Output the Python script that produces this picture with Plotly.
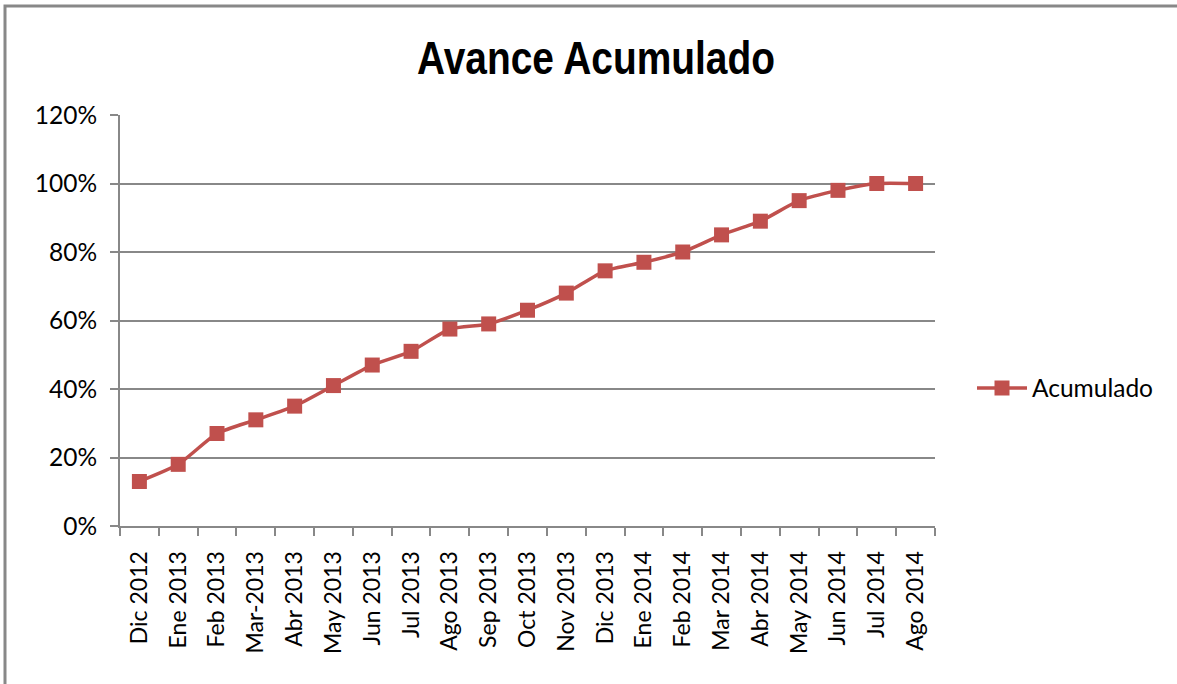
import plotly.graph_objects as go

categories = ["Dic 2012", "Ene 2013", "Feb 2013", "Mar-2013", "Abr 2013", "May 2013",
              "Jun 2013", "Jul 2013", "Ago 2013", "Sep 2013", "Oct 2013", "Nov 2013",
              "Dic 2013", "Ene 2014", "Feb 2014", "Mar 2014", "Abr 2014", "May 2014",
              "Jun 2014", "Jul 2014", "Ago 2014"]
acumulado = [0.13, 0.18, 0.27, 0.31, 0.35, 0.41, 0.47, 0.51, 0.575, 0.59, 0.63, 0.68,
             0.745, 0.77, 0.80, 0.85, 0.89, 0.95, 0.98, 1.00, 1.00]
y_ticks = [0, 0.2, 0.4, 0.6, 0.8, 1.0, 1.2]
y_labels = ["0%", "20%", "40%", "60%", "80%", "100%", "120%"]

W, H = 1177, 684
L, R, T, B = 120, 935, 115, 526

fig = go.Figure()
fig.add_trace(go.Scatter(
    x=categories, y=acumulado, name="Acumulado", mode="lines+markers",
    line=dict(color="#C0504D", width=3.5, shape="spline", smoothing=0.6),
    marker=dict(symbol="square", size=15, color="#C0504D"),
))

grid = "#888888"
font_family = "Lato, Carlito, Calibri, sans-serif"
fs = 24.5
fig.update_layout(
    width=W, height=H,
    margin=dict(l=L, r=W - R, t=T, b=H - B),
    paper_bgcolor="white", plot_bgcolor="white",
    title=dict(text="<b>Avance Acumulado</b>", x=596 / W, xanchor="center",
               y=1 - 58 / H, yanchor="middle",
               font=dict(family="'Liberation Sans Narrow', 'Arial Narrow', 'Liberation Sans', Arial, sans-serif",
                         size=46, color="black")),
    font=dict(family=font_family, size=fs, color="black"),
    showlegend=True,
    legend=dict(x=(972 - L) / (R - L), xanchor="left", y=(B - 388) / (B - T), yanchor="middle",
                font=dict(size=fs), bgcolor="rgba(0,0,0,0)", itemwidth=50),
    xaxis=dict(type="category", range=[-0.5, len(categories) - 0.5],
               tickangle=-90, ticks="outside", tickson="boundaries", ticklen=8,
               tickcolor=grid, tickwidth=2, showline=True, linecolor=grid, linewidth=2,
               showgrid=False, tickfont=dict(size=23), ticklabelstandoff=14),
    yaxis=dict(range=[0, 1.2], tickvals=y_ticks, ticktext=y_labels,
               ticks="outside", ticklen=8, tickcolor=grid, tickwidth=2,
               showline=True, linecolor=grid, linewidth=2,
               showgrid=True, gridcolor=grid, gridwidth=2, zeroline=False,
               tickfont=dict(size=fs), ticklabelstandoff=8),
)

# outer chart border (cut off at right and bottom as in the reference)
fig.add_shape(type="rect", xref="paper", yref="paper",
              x0=(5 - L) / (R - L), x1=(W + 10 - L) / (R - L),
              y0=(B - (H + 10)) / (B - T), y1=(B - 6) / (B - T),
              line=dict(color=grid, width=3), layer="below")

post = """
document.body.style.margin='0';document.body.style.padding='0';
var t = document.querySelector('.gtitle');
if (t) { t.setAttribute('textLength', '358'); t.setAttribute('lengthAdjust', 'spacingAndGlyphs'); }
"""
fig.write_html("out.html", config={"displayModeBar": False}, post_script=post)
